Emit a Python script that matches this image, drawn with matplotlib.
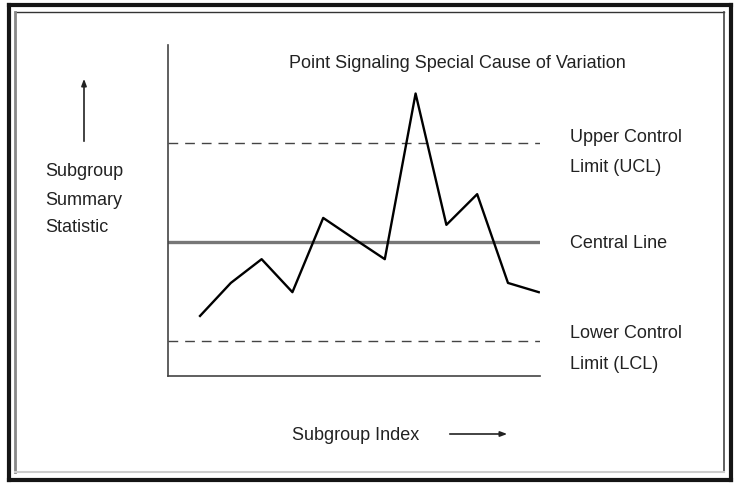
import matplotlib
matplotlib.use("Agg")
import matplotlib.pyplot as plt
from matplotlib.lines import Line2D

plt.rcParams['font.family'] = ['Liberation Sans', 'DejaVu Sans']

# Data (in sigma units relative to the central line)
subgroup_index = list(range(12))
statistic = [-2.24, -1.24, -0.52, -1.52, 0.73, 0.10, -0.52, 4.50, 0.52, 1.45, -1.24, -1.52]
center_line = 0.0
ucl = 3.0
lcl = -3.0

W, H = 737, 486
fig = plt.figure(figsize=(W / 100, H / 100), dpi=100)

def fx(x):
    return x / W

def fy(y):
    return 1 - y / H

ax = fig.add_axes([fx(168), fy(376), fx(540) - fx(168), fy(45) - fy(376)])
ax.set_xlim(-1.04, 11.04)
ax.set_ylim(-4.06, 5.97)
for s in ['top', 'right']:
    ax.spines[s].set_visible(False)
for s in ['left', 'bottom']:
    ax.spines[s].set_color('#444444')
    ax.spines[s].set_linewidth(1.2)
ax.set_xticks([])
ax.set_yticks([])
ax.patch.set_visible(False)

ax.axhline(center_line, color='#777777', lw=2.4, zorder=2)
ax.axhline(ucl, color='#444444', lw=1.0, ls=(0, (7, 5)), zorder=2)
ax.axhline(lcl, color='#444444', lw=1.0, ls=(0, (7, 5)), zorder=2)
ax.plot(subgroup_index, statistic, color='black', lw=1.7, zorder=3)

fs = 13
fig.text(fx(457), fy(63), 'Point Signaling Special Cause of Variation',
         ha='center', va='center', fontsize=fs, color='#222222')

right_labels = [('Upper Control', 138), ('Limit (UCL)', 167), ('Central Line', 243),
                ('Lower Control', 334), ('Limit (LCL)', 364)]
for t, y in right_labels:
    fig.text(fx(570), fy(y), t, ha='left', va='center', fontsize=fs, color='#222222')

left_labels = [('Subgroup', 171), ('Summary', 200), ('Statistic', 228)]
for t, y in left_labels:
    fig.text(fx(45), fy(y), t, ha='left', va='center', fontsize=fs, color='#222222')

fig.text(fx(292), fy(435), 'Subgroup Index', ha='left', va='center', fontsize=fs, color='#222222')

# arrows
fig.patches.append(matplotlib.patches.FancyArrowPatch(
    (fx(84), fy(144)), (fx(84), fy(76)), transform=fig.transFigure,
    arrowstyle='-|>,head_length=4,head_width=1.5', color='#222222', lw=1.2))
fig.patches.append(matplotlib.patches.FancyArrowPatch(
    (fx(447), fy(434)), (fx(510), fy(434)), transform=fig.transFigure,
    arrowstyle='-|>,head_length=4,head_width=1.5', color='#222222', lw=1.2))

# frames
def fline(x0, y0, x1, y1, color, lw):
    fig.add_artist(Line2D([fx(x0), fx(x1)], [fy(y0), fy(y1)], transform=fig.transFigure,
                          color=color, lw=lw, solid_capstyle='projecting'))

# outer thick black border
fline(9, 5, 731, 5, '#151515', 3)
fline(9, 480, 731, 480, '#151515', 3)
fline(9, 5, 9, 480, '#151515', 3)
fline(731, 5, 731, 480, '#151515', 3)
# inner border
fline(14.5, 12.5, 724, 12.5, '#333333', 1)
fline(14.5, 12.5, 14.5, 472, '#888888', 2)
fline(724, 12.5, 724, 472, '#444444', 1.2)
fline(14.5, 472, 724, 472, '#cccccc', 1.5)

fig.savefig('out.png', dpi=100)
